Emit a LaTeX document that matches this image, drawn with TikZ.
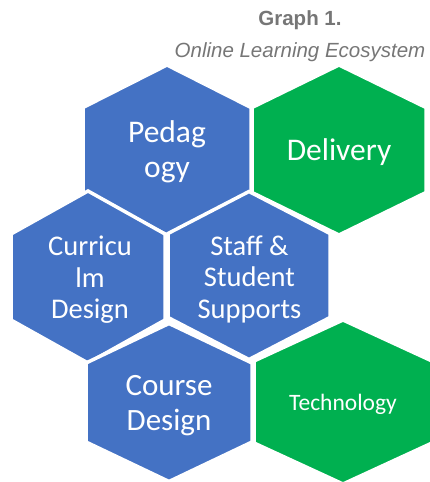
\documentclass[tikz,border=0pt]{standalone}
\usepackage{fontspec}
\setmainfont{Carlito}
\newfontfamily\headfont{Liberation Sans}
\definecolor{cellblue}{HTML}{4472C4}
\definecolor{cellgreen}{HTML}{00B050}
\definecolor{headgray}{HTML}{767676}
\tikzset{
  cell/.style={draw=white,line width=3.5pt,line join=miter},
  bluecell/.style={cell,fill=cellblue},
  greencell/.style={cell,fill=cellgreen},
  celltext/.style={text=white,align=center,inner sep=0pt},
  heading/.style={text=headgray,inner sep=0pt,anchor=base}
}
% hexagon with a point on top: style, centre, half width, half height
\newcommand{\hexcell}[4]{%
  \path[#1,shift={#2}] (0,-#4) -- (#3,-#4/2) -- (#3,#4/2) -- (0,#4)
    -- (-#3,#4/2) -- (-#3,-#4/2) -- cycle;}

\begin{document}
\begin{tikzpicture}[x=1pt,y=-1pt]
  \useasboundingbox (0,0) rectangle (430,482);

  % caption
  \node[heading,font=\headfont\bfseries\fontsize{20.5}{24}\selectfont] (title) at (300,25) {Graph 1.};
  \node[heading,font=\headfont\itshape\fontsize{20.5}{24}\selectfont] (subtitle) at (300,57) {Online Learning Ecosystem};

  % top row
  \hexcell{bluecell}{(167,150)}{84}{85}
  \hexcell{greencell}{(339,150)}{87}{85}
  % middle row
  \hexcell{bluecell}{(88,277)}{77}{86}
  \hexcell{bluecell}{(249,275.5)}{81}{84}
  % bottom row
  \hexcell{bluecell}{(169,402.5)}{83}{79}
  \hexcell{greencell}{(343,402)}{89}{82}

  \node[celltext,font=\fontsize{31.5}{34.6}\selectfont] (ped) at (167,152) {Pedag\\ogy};
  \node[celltext,font=\fontsize{31.5}{34.6}\selectfont] (del) at (339,152) {Delivery};
  \node[celltext,font=\fontsize{28.5}{31.5}\selectfont] (cur) at (90,280) {Curricu\\lm\\Design};
  \node[celltext,font=\fontsize{28.5}{31.5}\selectfont] (sta) at (249.5,279) {Staff \&\\Student\\Supports};
  \node[celltext,font=\fontsize{31}{34.5}\selectfont] (cou) at (169,405.5) {Course\\Design};
  \node[celltext,font=\fontsize{23.5}{26}\selectfont] (tec) at (343,404) {Technology};
\end{tikzpicture}
\end{document}
